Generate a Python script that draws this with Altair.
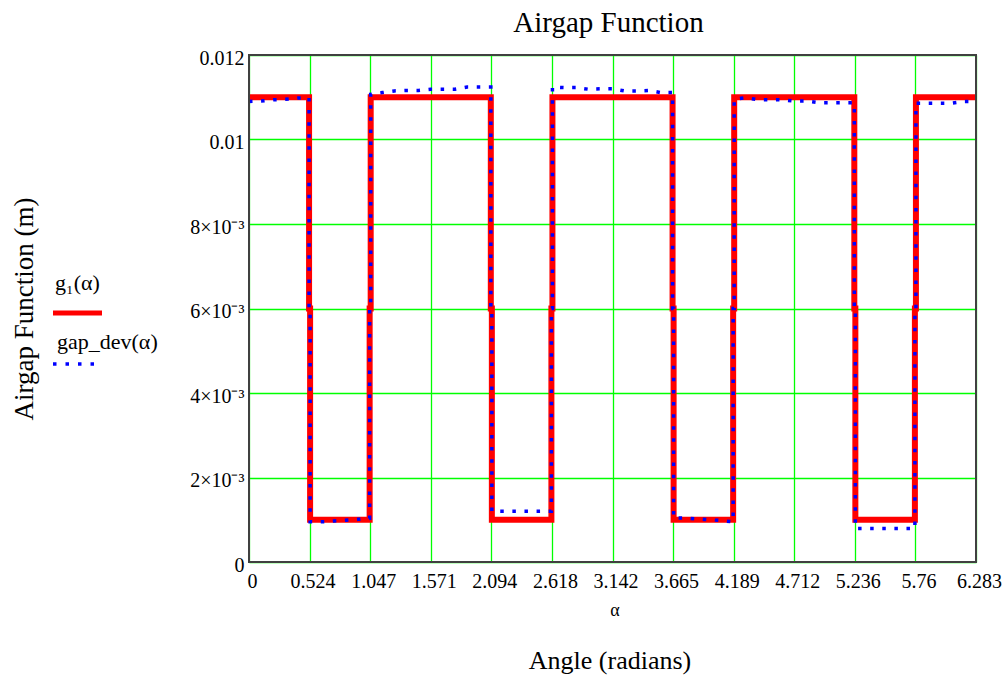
import altair as alt
import pandas as pd

# ---------------- data ----------------
# segment boundaries (radians) of the airgap function
edges = [0.0, 0.5236, 1.0472, 2.0944, 2.6180, 3.6652, 4.1888, 5.2360, 5.7596, 6.2832]
# g1(alpha): level of each segment (m)
g1_levels = [0.011, 0.001, 0.011, 0.001, 0.011, 0.001, 0.011, 0.001, 0.011]
mid_level = 0.006

# gap_dev(alpha): sample angles and values
gap_angles = [0.0, 0.1047, 0.2094, 0.3142, 0.4189, 0.5236, 0.6283, 0.7330, 0.8378, 0.9425,
              1.0472, 1.1519, 1.2566, 1.3614, 1.4661, 1.5708, 1.6755, 1.7802, 1.8850, 1.9897,
              2.0944, 2.1991, 2.3038, 2.4086, 2.5133, 2.6180, 2.7227, 2.8274, 2.9322, 3.0369,
              3.1416, 3.2463, 3.3510, 3.4558, 3.5605, 3.6652, 3.7699, 3.8746, 3.9794, 4.0841,
              4.1888, 4.2935, 4.3982, 4.5029, 4.6077, 4.7124, 4.8171, 4.9218, 5.0265, 5.1313,
              5.2360, 5.3407, 5.4454, 5.5501, 5.6549, 5.7596, 5.8643, 5.9690, 6.0737, 6.1785,
              6.2832]
gap_segments = [
    [0.01090, 0.01091, 0.01094, 0.01095, 0.01098, 0.01099],
    [0.00095, 0.00095, 0.00097, 0.00099, 0.00101, 0.00103],
    [0.01107, 0.01111, 0.01115, 0.01116, 0.01116, 0.01119, 0.01119, 0.01119, 0.01124, 0.01124, 0.01124],
    [0.00120, 0.00120, 0.00120, 0.00120, 0.00120, 0.00120],
    [0.01124, 0.01123, 0.01123, 0.01119, 0.01120, 0.01120, 0.01115, 0.01115, 0.01116, 0.01111, 0.01111],
    [0.00104, 0.00104, 0.00102, 0.00100, 0.00098, 0.00095],
    [0.01095, 0.01099, 0.01094, 0.01094, 0.01094, 0.01091, 0.01091, 0.01087, 0.01087, 0.01087, 0.01087],
    [0.00079, 0.00079, 0.00079, 0.00079, 0.00079, 0.00079],
    [0.01086, 0.01086, 0.01086, 0.01086, 0.01090, 0.01090],
]

x_ticks = [0.0, 0.5236, 1.0472, 1.5708, 2.0944, 2.6180, 3.1416, 3.6652, 4.1888, 4.7124, 5.2360, 5.7596, 6.2832]
y_ticks = [0.0, 0.002, 0.004, 0.006, 0.008, 0.010, 0.012]

SERIF = "Liberation Serif"
EDGE_GAP = 0.0045


def build_path(seg_x, seg_y):
    rows = []
    n = len(seg_x)
    for i in range(n):
        xs = list(seg_x[i])
        ys = list(seg_y[i])
        if i > 0:
            xs[0] += EDGE_GAP
        if i < n - 1:
            xs[-1] -= EDGE_GAP
        for a, v in zip(xs, ys):
            rows.append({"angle": a, "value": v})
        if i < n - 1:
            e = edges[i + 1]
            rows.append({"angle": e - EDGE_GAP, "value": mid_level})
            rows.append({"angle": e + EDGE_GAP, "value": mid_level})
    df = pd.DataFrame(rows)
    df["order"] = range(len(df))
    return df


g1_x = [[edges[i], edges[i + 1]] for i in range(len(g1_levels))]
g1_y = [[lv, lv] for lv in g1_levels]
g1_df = build_path(g1_x, g1_y)

gap_x = []
for i in range(len(gap_segments)):
    gap_x.append([a for a in gap_angles if edges[i] - 1e-6 <= a <= edges[i + 1] + 1e-6])
gap_df = build_path(gap_x, gap_segments)

# ---------------- chart ----------------
W, H = 727, 507

x_enc = alt.X(
    "angle:Q",
    scale=alt.Scale(domain=[0, 6.2832], nice=False, zero=False),
    axis=alt.Axis(
        values=x_ticks,
        labelExpr="datum.value == 0 ? '0' : format(datum.value, '.3~f')",
        grid=True, gridColor="#00ff00", gridWidth=1.3,
        domain=False, ticks=False, title=None,
        labelFont=SERIF, labelFontSize=20, labelColor="black",
        labelPadding=9, labelOffset=3, labelFlush=False, labelOverlap=False,
    ),
)
y_enc = alt.Y(
    "value:Q",
    scale=alt.Scale(domain=[0, 0.012], nice=False, zero=False),
    axis=alt.Axis(
        values=y_ticks,
        labelExpr="datum.value == 0 ? '0' : (datum.value > 0.0099 ? format(datum.value, '.3~f') : round(datum.value * 1000) + '×10⁻³')",
        grid=True, gridColor="#00ff00", gridWidth=1.3,
        domain=False, ticks=False, title=None,
        labelFont=SERIF, labelFontSize=20, labelColor="black",
        labelPadding=5, labelOffset=3, labelOverlap=False, labelFlush=False,
    ),
)

red = alt.Chart(g1_df).mark_line(color="#ff0000", strokeWidth=6, strokeJoin="miter").encode(
    x=x_enc, y=y_enc, order="order:Q"
)
blue = alt.Chart(gap_df).mark_line(
    color="#0000ff", strokeWidth=3.5, strokeDash=[3.5, 8.6], strokeCap="butt"
).encode(x="angle:Q", y="value:Q", order="order:Q")

one = alt.Data(values=[{"k": 1}])

frame = alt.Chart(one).mark_rect(fill=None, stroke="#404040", strokeWidth=2).encode(
    x=alt.value(0), x2=alt.value(W), y=alt.value(0), y2=alt.value(H)
)


def label(text, x, y, size, align="left", angle=None, baseline="middle"):
    kw = dict(font=SERIF, fontSize=size, color="black", align=align, baseline=baseline)
    if angle is not None:
        kw["angle"] = angle
    return alt.Chart(one).mark_text(**kw).encode(
        x=alt.value(x), y=alt.value(y), text=alt.value(text)
    )


y_title = label("Airgap Function (m)", -224, 254, 27, align="center", angle=270)
x_sym = label("α", 366, 561, 18, align="center", baseline="alphabetic")
x_title = label("Angle (radians)", 361, 614, 26, align="center", baseline="alphabetic")
leg1_text = label("g₁(α)", -194, 228, 22)
leg2_text = label("gap_dev(α)", -192, 287, 22)
leg1_line = alt.Chart(one).mark_rule(color="#ff0000", strokeWidth=5).encode(
    x=alt.value(-196), x2=alt.value(-147), y=alt.value(258)
)
leg2_line = alt.Chart(one).mark_rule(
    color="#0000ff", strokeWidth=3.5, strokeDash=[3.5, 9]
).encode(x=alt.value(-196), x2=alt.value(-152), y=alt.value(309))

chart = alt.layer(
    red, blue, frame, y_title, x_sym, x_title, leg1_text, leg2_text, leg1_line, leg2_line
).properties(
    width=W, height=H,
    title=alt.TitleParams(
        "Airgap Function", font=SERIF, fontSize=29, fontWeight="normal",
        color="black", anchor="middle", offset=10, dx=-4,
    ),
    autosize=alt.AutoSizeParams(type="none"),
    padding={"left": 249, "top": 55, "right": 30, "bottom": 115},
).configure_view(stroke=None).configure(background="white")

chart.save("out.html", embed_options={"renderer": "svg", "actions": False})
